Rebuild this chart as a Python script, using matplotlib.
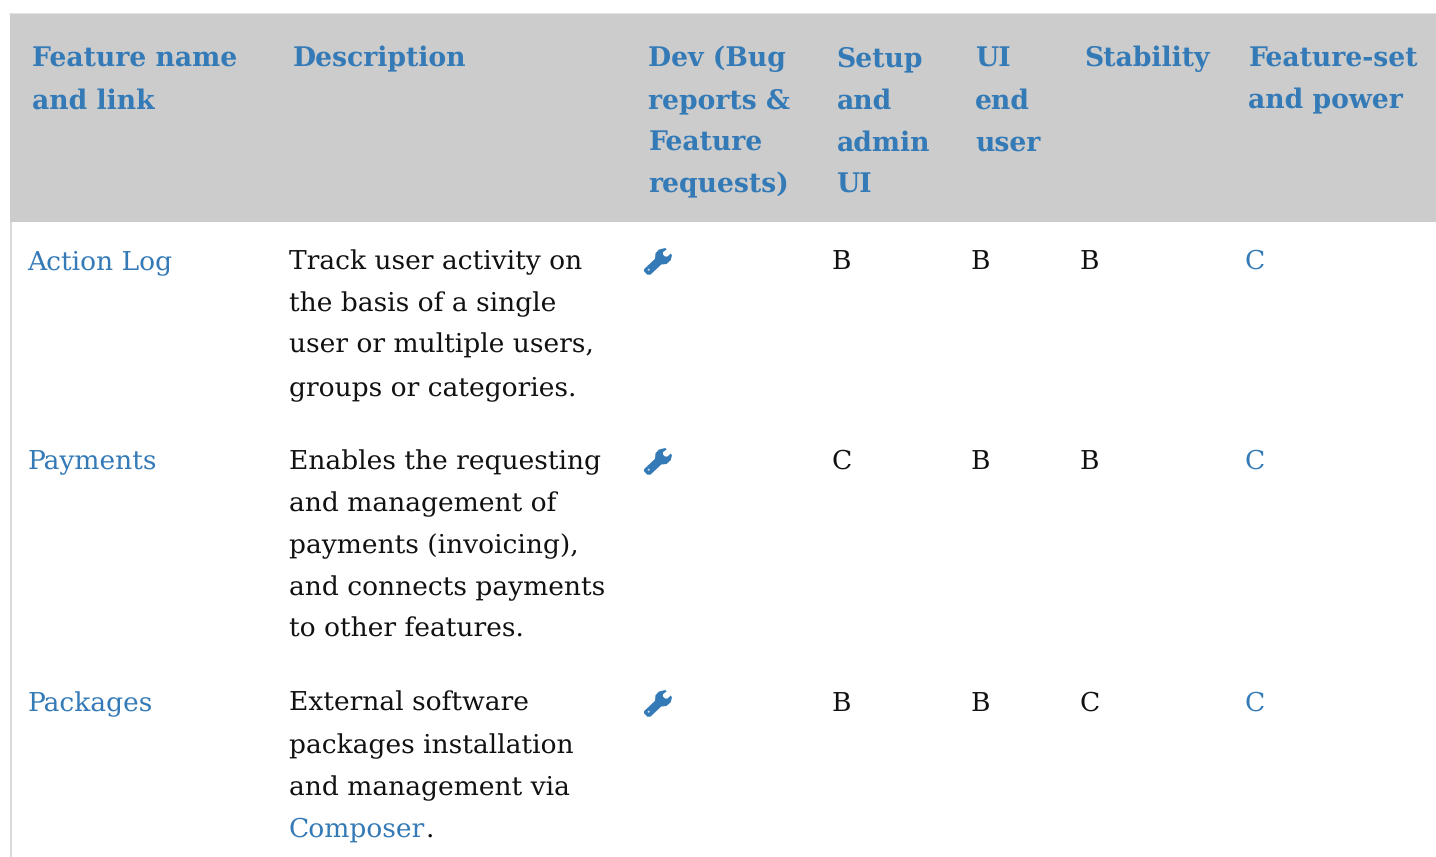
import matplotlib.pyplot as plt
from matplotlib.patches import PathPatch, Rectangle
from matplotlib.path import Path
from matplotlib.transforms import Affine2D

plt.rcParams["text.hinting"] = "no_hinting"
plt.rcParams["text.hinting_factor"] = 8

BLUE = "#337ab7"
BLACK = "#111111"
HEADER_BG = "#cccccc"
BORDER = "#d9d9d9"

headers = [
    ["Feature name", "and link"],
    ["Description"],
    ["Dev (Bug", "reports &", "Feature", "requests)"],
    ["Setup", "and", "admin", "UI"],
    ["UI", "end", "user"],
    ["Stability"],
    ["Feature-set", "and power"],
]
header_x = [31.5, 292.5, 648.5, 836.5, 975, 1084, 1248.5]

features = ["Action Log", "Payments", "Packages"]
descriptions = [
    ["Track user activity on", "the basis of a single", "user or multiple users,", "groups or categories."],
    ["Enables the requesting", "and management of", "payments (invoicing),", "and connects payments", "to other features."],
    ["External software", "packages installation", "and management via"],
]
setup_grades = ["B", "C", "B"]
ui_grades = ["B", "B", "B"]
stability_grades = ["B", "B", "C"]
power_grades = ["C", "C", "C"]
row_baselines = [269, 469, 711]

LINE_H = 42
BODY_SIZE = 19.05
HEAD_SIZE = 19.2

# wrench outline, in a 28x27 box with y pointing down
WRENCH = Path(
    [
        (0, 21.2), (11, 10.8), (11.5, 5.2), (15, 1.5), (21.3, 0), (22.7, 1.3),
        (19, 4.2), (19, 6.5), (21, 8.5), (23.5, 8.5), (26.7, 5.5), (28, 7.3),
        (26.7, 12.3), (22.5, 16), (17.3, 16.5), (6.5, 26.7), (3.3, 26.7), (0, 23.3),
        (0, 21.2),
    ],
    closed=True,
)


def draw_wrench(ax, x, y):
    patch = PathPatch(
        WRENCH,
        facecolor=BLUE,
        edgecolor="none",
        transform=Affine2D().translate(x, y) + ax.transData,
    )
    ax.add_patch(patch)
    # the small hole near the handle end
    ax.add_patch(plt.Circle((x + 4.7, y + 21.7), 1.0, color="#cfe0ef", lw=0, zorder=3))


def main():
    fig = plt.figure(figsize=(14.36, 8.57), dpi=100)
    ax = fig.add_axes([0, 0, 1, 1])
    ax.set_xlim(0, 1436)
    ax.set_ylim(857, 0)
    ax.axis("off")

    ax.add_patch(Rectangle((9, 13), 1427, 1, color="#e4e4e4", lw=0))
    ax.add_patch(Rectangle((10, 14), 1426, 208, color=HEADER_BG, lw=0))
    ax.add_patch(Rectangle((10, 222), 2, 635, color=BORDER, lw=0))

    for x, lines in zip(header_x, headers):
        for i, line in enumerate(lines):
            ax.text(x, 66.4 + i * LINE_H, line, color=BLUE, fontsize=HEAD_SIZE,
                    fontweight="bold", family="DejaVu Serif", va="baseline")

    for r, y in enumerate(row_baselines):
        ax.text(27.5, y, features[r], color=BLUE, fontsize=BODY_SIZE,
                family="DejaVu Serif", va="baseline")
        for i, line in enumerate(descriptions[r]):
            ax.text(289, y + i * LINE_H, line, color=BLACK, fontsize=BODY_SIZE,
                    family="DejaVu Serif", va="baseline")
        draw_wrench(ax, 644, y - 21)
        ax.text(832, y, setup_grades[r], color=BLACK, fontsize=BODY_SIZE,
                family="DejaVu Serif", va="baseline")
        ax.text(970.5, y, ui_grades[r], color=BLACK, fontsize=BODY_SIZE,
                family="DejaVu Serif", va="baseline")
        ax.text(1080, y, stability_grades[r], color=BLACK, fontsize=BODY_SIZE,
                family="DejaVu Serif", va="baseline")
        ax.text(1244.5, y, power_grades[r], color=BLUE, fontsize=BODY_SIZE,
                family="DejaVu Serif", va="baseline")

    last_y = row_baselines[2] + 3 * LINE_H
    link = ax.text(289, last_y, "Composer", color=BLUE, fontsize=BODY_SIZE,
                   family="DejaVu Serif", va="baseline")
    fig.canvas.draw()
    end_x = link.get_window_extent().x1
    ax.text(end_x, last_y, ".", color=BLACK, fontsize=BODY_SIZE,
            family="DejaVu Serif", va="baseline")

    fig.savefig("out.png", dpi=100)
    plt.close(fig)


if __name__ == "__main__":
    main()
